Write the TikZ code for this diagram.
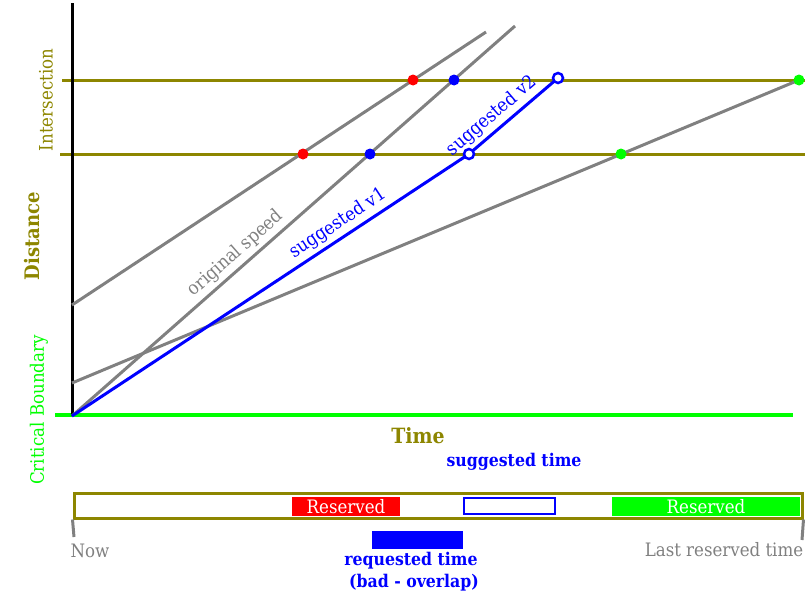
\documentclass[tikz,border=0pt]{standalone}
\usepackage{fontspec}
\setmainfont{DejaVu Serif Condensed}
\usetikzlibrary{positioning}
\definecolor{brightgreen}{RGB}{0,255,0}

\begin{document}
\begin{tikzpicture}[x=1pt, y=-1pt,
  road/.style={olive, line width=3pt},
  traj/.style={gray, line width=3pt},
  hitdot/.style={circle, fill=#1, inner sep=0pt, minimum size=11pt},
  opendot/.style={circle, draw=blue, fill=white, line width=2.5pt, inner sep=0pt, minimum size=10pt},
  lbl/.style={font=\fontsize{18.5}{21}\selectfont},
  blbl/.style={font=\bfseries\fontsize{17.5}{20}\selectfont},
  tick/.style={gray, line width=3pt},
  slot/.style={minimum height=19pt, inner sep=0pt, text=white, lbl}]
\useasboundingbox (0,0) rectangle (812,597);
% end points of the axes and roads
\coordinate (O) at (72,416);
\coordinate (top) at (72,3);
\coordinate (ra) at (62,80);
\coordinate (rae) at (805,80);
\coordinate (rb) at (60,154);
\coordinate (rbe) at (805,154);
\coordinate (cb) at (55,415);
\coordinate (cbe) at (793,415);
% trajectories
\coordinate (l1s) at (72,305);
\coordinate (l1e) at (486,32);
\coordinate (l2e) at (515,26);
\coordinate (l3s) at (72,383);
\coordinate (l3e) at (799,80);
\coordinate (near) at (469,154);
\coordinate (far) at (558,78);

\draw[road] (ra) -- (rae);
\draw[road] (rb) -- (rbe);
\draw[brightgreen, line width=4pt] (cb) -- (cbe);
\draw[black, line width=3pt] (O) -- (top);

\draw[traj] (l1s) -- (l1e);
\draw[traj] (O) -- (l2e) node[pos=0.39, sloped, above, text=gray, lbl] (origlbl) {original speed};
\draw[traj] (l3s) -- (l3e);
\draw[blue, line width=3pt] (O) -- (near) node[pos=0.69, sloped, above, lbl] (v1lbl) {suggested v1};
\draw[blue, line width=3pt] (near) -- (far) node[pos=0.36, sloped, above, lbl] (v2lbl) {suggested v2};

% crossing points
\node[hitdot=red] (r1) at (303,154) {};
\node[hitdot=red] (r2) at (413,80) {};
\node[hitdot=blue] (b1) at (370,154) {};
\node[hitdot=blue] (b2) at (454,80) {};
\node[hitdot=brightgreen] (g1) at (621,154) {};
\node[hitdot=brightgreen] (g2) at (799,80) {};
\node[opendot] (s1) at (near) {};
\node[opendot] (s2) at (far) {};

% axis labels
\node[rotate=90, text=olive, font=\bfseries\fontsize{20}{24}\selectfont] (dist) at (32,236) {Distance};
\node[rotate=90, text=olive, lbl] (inter) at (46,100) {Intersection};
\node[rotate=90, text=brightgreen, lbl] (crit) at (39,410) {Critical Boundary};
\node[text=olive, font=\bfseries\fontsize{21}{25}\selectfont] (time) at (418,436) {Time};

% reservation bar
\node[text=blue, blbl] (sugtime) at (514,462) {suggested time};
\node[draw=olive, line width=3pt, minimum width=728pt, minimum height=25pt, inner sep=0pt] (bar) at (438,505.5) {};
\node[slot, fill=red, minimum width=108pt] (res1) at (346,506.5) {Reserved};
\node[draw=blue, fill=white, line width=2.5pt, minimum width=91pt, minimum height=16pt, inner sep=0pt] (sugslot) at (509.5,506) {};
\node[slot, fill=brightgreen, minimum width=188pt] (res2) at (706,506.5) {Reserved};
\node[fill=blue, minimum width=91pt, minimum height=18pt, inner sep=0pt] (reqslot) at (417.5,540) {};
\node[text=blue, blbl] (reqlbl) at (411,561) {requested time};
\node[text=blue, blbl] (badlbl) at (414,583) {(bad - overlap)};

\coordinate (nowend) at (74,537);
\coordinate (lastend) at (802,540);
\draw[tick] (bar.south west) -- (nowend);
\draw[tick] (bar.south east) -- (lastend);
\node[text=gray, lbl] (now) at (90,551) {Now};
\node[text=gray, lbl] (last) at (724,550) {Last reserved time};
\end{tikzpicture}
\end{document}
